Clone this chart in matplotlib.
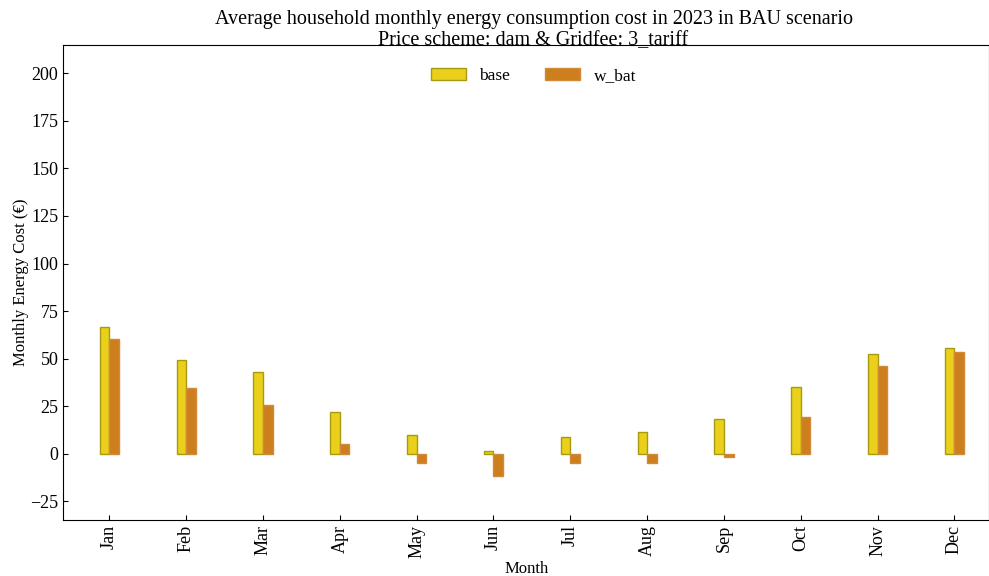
import numpy as np
import matplotlib
matplotlib.use("Agg")
import matplotlib.pyplot as plt

plt.rcParams['font.family'] = ['Liberation Serif', 'DejaVu Serif']

months = ['Jan', 'Feb', 'Mar', 'Apr', 'May', 'Jun', 'Jul', 'Aug', 'Sep', 'Oct', 'Nov', 'Dec']
base = [66.7, 49.3, 43.0, 22.0, 10.0, 1.6, 8.9, 11.5, 18.4, 35.0, 52.5, 55.6]
w_bat = [60.4, 34.6, 25.7, 5.2, -4.7, -12.0, -4.7, -4.7, -1.6, 19.4, 46.2, 53.5]

x = np.arange(len(months))
width = 0.125

fig = plt.figure(figsize=(9.89, 5.76), dpi=100)
ax = fig.add_axes([0.064, 0.097, 0.936, 0.825])

ax.bar(x - width / 2, base, width, color='#EAD01A', edgecolor='#A89A10', linewidth=1, label='base')
ax.bar(x + width / 2, w_bat, width, color='#CD7F1E', edgecolor='#D08A3A', linewidth=1, label='w_bat')

ax.set_xlim(-0.6, 11.45)
ax.set_ylim(-35, 215)
ax.set_yticks(np.arange(-25, 201, 25))
ax.set_xticks(x)
ax.set_xticklabels(months, rotation=90)
ax.tick_params(axis='both', direction='in', labelsize=13)

ax.set_xlabel('Month', fontsize=12, labelpad=2)
ax.set_ylabel('Monthly Energy Cost (€)', fontsize=12, labelpad=1)
ax.set_title('Average household monthly energy consumption cost in 2023 in BAU scenario\n'
             'Price scheme: dam & Gridfee: 3_tariff', fontsize=14.5, linespacing=1.15,
             pad=0, x=0.508, y=1.0)

ax.legend(loc='upper center', ncol=2, frameon=False, fontsize=12.5,
          bbox_to_anchor=(0.508, 0.985), columnspacing=2.0)

fig.savefig('out.png', dpi=100)
